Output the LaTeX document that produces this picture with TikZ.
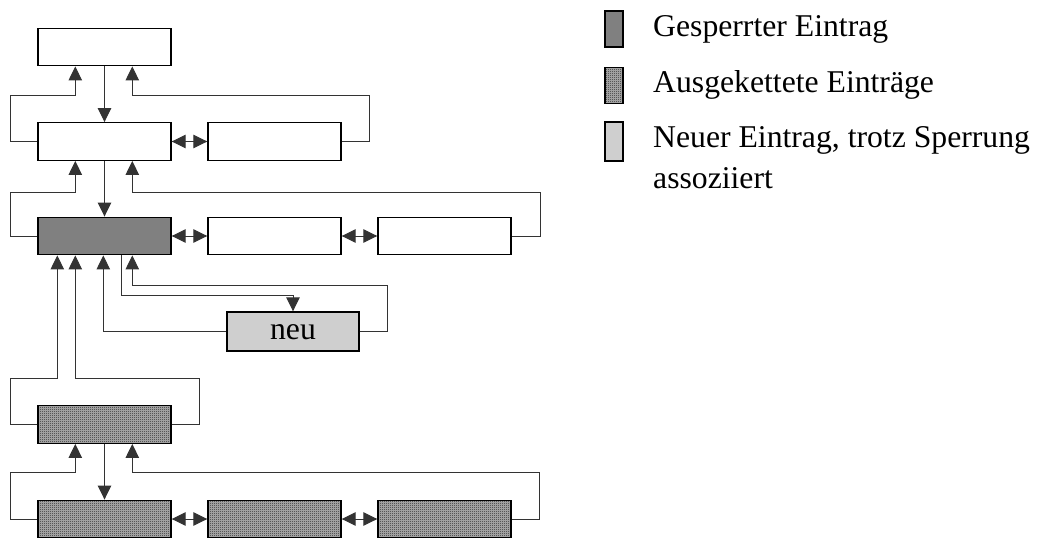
\documentclass[tikz,border=0pt]{standalone}
\usepackage{fontspec}
\setmainfont{Liberation Serif}
\usetikzlibrary{arrows.meta,calc,patterns}

% fine dither used for the unchained entries
\pgfdeclarepatternformonly{finedither}{\pgfpointorigin}{\pgfpoint{2pt}{2pt}}{\pgfpoint{2pt}{2pt}}{%
  \pgfpathrectangle{\pgfpointorigin}{\pgfpoint{1pt}{1pt}}%
  \pgfpathrectangle{\pgfpoint{1pt}{1pt}}{\pgfpoint{1pt}{1pt}}%
  \pgfusepath{fill}}

\begin{document}
\begin{tikzpicture}[x=1pt,y=-1pt,
  entry/.style={draw=black, line width=1.4pt, minimum width=133pt,
    minimum height=37.5pt, inner sep=0pt, fill=white},
  locked/.style={entry, fill=black!50},
  dither/.style={preaction={fill=black!30}, pattern=finedither, pattern color=black!85},
  unchained/.style={entry, dither},
  newentry/.style={entry, fill=black!19},
  swatch/.style={draw=black, line width=1.4pt, minimum width=18pt,
    minimum height=36pt, inner sep=0pt},
  conn/.style={draw=black!80, line width=1pt},
  up/.style={conn, -{Triangle[length=14pt,width=13.5pt]}},
  both/.style={conn, {Triangle[length=14pt,width=13.5pt]}-{Triangle[length=14pt,width=13.5pt]}},
  label/.style={font=\fontsize{31.7}{40}\selectfont, inner sep=0pt}
]
\useasboundingbox (0,0) rectangle (1040,540);

% entries
\node[entry] (A)  at (104.5,47) {};
\node[entry] (B1) at (104.5,141.5) {};
\node[entry] (B2) at (274.5,141.5) {};
\node[locked] (C1) at (104.5,236) {};
\node[entry] (C2) at (274.5,236) {};
\node[entry] (C3) at (444.5,236) {};
\node[newentry, minimum width=132pt, minimum height=39pt] (N) at (293,331.5) {};
\node[label, anchor=base] (Nt) at (293,339) {neu};
\node[unchained] (D1) at (104.5,424.5) {};
\node[unchained] (E1) at (104.5,519) {};
\node[unchained] (E2) at (274.5,519) {};
\node[unchained] (E3) at (444.5,519) {};

% downward links
\draw[up] (A.south) -- (B1.north);
\draw[up] (B1.south) -- (C1.north);
\draw[up] (D1.south) -- (E1.north);

% horizontal double links
\draw[both] (B1.east) -- (B2.west);
\draw[both] (C1.east) -- (C2.west);
\draw[both] (C2.east) -- (C3.west);
\draw[both] (E1.east) -- (E2.west);
\draw[both] (E2.east) -- (E3.west);

% back links of the second row
\draw[up] (B1.west) -| (10,96) -| ($(A.south west)+(38,0)$);
\draw[up] (B2.east) -| (369,96) -| ($(A.south west)+(95,0)$);

% back links of the locked row
\draw[up] (C1.west) -| (10,192) -| ($(B1.south west)+(38,0)$);
\draw[up] (C3.east) -| (540,192) -| ($(B1.south west)+(95,0)$);

% the new entry
\draw[up] ($(C1.south west)+(84,0)$) |- ($(N.north)+(0,-16)$) -- (N.north);
\draw[up] (N.east) -| (387,285) -| ($(C1.south west)+(95,0)$);
\draw[up] (N.west) -| ($(C1.south west)+(66,0)$);

% unchained entries
\draw[up] (D1.west) -| (10,378) -| ($(C1.south west)+(20,0)$);
\draw[up] (D1.east) -| (199,378) -| ($(C1.south west)+(38,0)$);
\draw[up] (E1.west) -| (10,472) -| ($(D1.south west)+(38,0)$);
\draw[up] (E3.east) -| (539,472) -| ($(D1.south west)+(95,0)$);

% legend
\node[swatch, fill=black!50] (L1) at (614,29) {};
\node[swatch, dither] (L2) at (614,85.5) {};
\node[swatch, fill=black!19, minimum height=39pt] (L3) at (614,141.5) {};
\node[label, anchor=base west] (T1) at (653,37) {Gesperrter Eintrag};
\node[label, anchor=base west] (T2) at (653,93) {Ausgekettete Einträge};
\node[label, anchor=base west] (T3) at (653,148) {Neuer Eintrag, trotz Sperrung};
\node[label, anchor=base west] (T4) at (653,188) {assoziiert};
\end{tikzpicture}
\end{document}
